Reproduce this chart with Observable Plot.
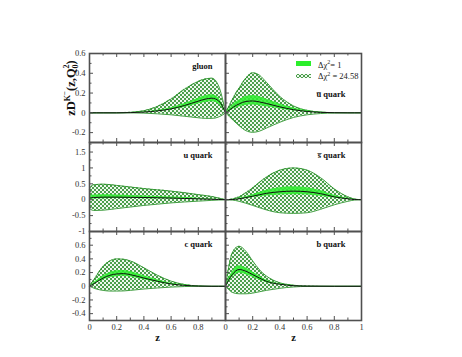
<!DOCTYPE html>
<html><head><meta charset="utf-8">
<script src="https://cdn.jsdelivr.net/npm/d3@7"></script>
<script src="https://cdn.jsdelivr.net/npm/@observablehq/plot@0.6"></script>
<style>
body{margin:0;background:#fff}
#chart{position:relative;width:462px;height:357px;font-family:"Liberation Serif",serif}
#chart svg{position:absolute;overflow:visible}
</style>
</head><body>
<svg width="0" height="0" style="position:absolute">
<defs>
<pattern id="hatch" patternUnits="userSpaceOnUse" width="4" height="4">
<rect width="4" height="4" fill="#eef8ee"/>
<path d="M0,0L4,4M4,0L0,4M-1,3L1,5M3,-1L5,1M-1,1L1,-1M3,5L5,3" stroke="#2e8e2e" stroke-width="0.85"/>
</pattern>
</defs>
</svg>
<div id="chart"></div>
<script>
// ---------------- data ----------------
const gluonZ    = [0,0.1,0.2,0.3,0.4,0.5,0.6,0.7,0.8,0.85,0.9,0.95,0.98,1];
const gluonC    = [0,0,0,0.002,0.008,0.02,0.04,0.075,0.118,0.138,0.148,0.12,0.06,0];
const gluonInLo = [0,0,0,0.001,0.005,0.014,0.03,0.055,0.09,0.105,0.112,0.09,0.045,0];
const gluonInHi = [0,0,0,0.003,0.011,0.027,0.052,0.095,0.148,0.172,0.182,0.15,0.075,0];
const gluonOutLo= [0,0,0,0,-0.003,-0.01,-0.02,-0.035,-0.05,-0.056,-0.056,-0.042,-0.02,0];
const gluonOutHi= [0,0,0,0.005,0.022,0.065,0.14,0.24,0.318,0.342,0.35,0.27,0.13,0];

const ubarZ    = [0,0.03,0.06,0.1,0.15,0.2,0.25,0.3,0.4,0.5,0.6,0.7,0.8,0.9,1];
const ubarC    = [0,0.03,0.06,0.09,0.115,0.12,0.11,0.095,0.06,0.032,0.014,0.005,0.001,0,0];
const ubarInLo = [0,0.02,0.04,0.06,0.075,0.078,0.072,0.062,0.04,0.022,0.009,0.003,0,0,0];
const ubarInHi = [0,0.045,0.09,0.13,0.165,0.175,0.162,0.14,0.09,0.048,0.02,0.007,0.002,0,0];
const ubarOutLo= [0,-0.04,-0.08,-0.13,-0.18,-0.197,-0.185,-0.155,-0.095,-0.047,-0.02,-0.007,-0.002,0,0];
const ubarOutHi= [0,0.08,0.16,0.25,0.35,0.405,0.38,0.31,0.165,0.07,0.025,0.007,0.002,0,0];

const uZ    = [0,0.03,0.1,0.2,0.3,0.4,0.5,0.6,0.7,0.8,0.9,1];
const uC    = [0.05,0.07,0.08,0.08,0.075,0.07,0.062,0.052,0.04,0.028,0.015,0];
const uInLo = [0,0.02,0.03,0.035,0.035,0.033,0.03,0.025,0.02,0.014,0.007,0];
const uInHi = [0.12,0.15,0.155,0.145,0.13,0.115,0.1,0.085,0.066,0.046,0.024,0];
const uOutLo= [-0.28,-0.34,-0.33,-0.28,-0.23,-0.18,-0.14,-0.1,-0.07,-0.045,-0.02,0];
const uOutHi= [0.34,0.47,0.49,0.45,0.4,0.35,0.31,0.27,0.22,0.16,0.1,0];

const sbarZ    = [0,0.05,0.1,0.2,0.3,0.4,0.5,0.6,0.7,0.8,0.9,0.95,1];
const sbarC    = [0,0.005,0.03,0.11,0.2,0.25,0.27,0.25,0.19,0.09,0.03,0.005,0];
const sbarInLo = [0,0.003,0.02,0.07,0.12,0.15,0.16,0.15,0.11,0.055,0.018,0.003,0];
const sbarInHi = [0,0.008,0.045,0.16,0.3,0.38,0.41,0.38,0.29,0.14,0.045,0.008,0];
const sbarOutLo= [0,-0.01,-0.05,-0.18,-0.32,-0.41,-0.43,-0.41,-0.3,-0.16,-0.05,-0.01,0];
const sbarOutHi= [0,0.02,0.09,0.375,0.71,0.93,1.0,0.93,0.69,0.34,0.09,0.02,0];

const cZ    = [0,0.05,0.1,0.15,0.2,0.25,0.3,0.4,0.5,0.6,0.7,0.8,0.9,1];
const cC    = [0,0.06,0.12,0.16,0.18,0.185,0.17,0.12,0.073,0.034,0.013,0.003,0,0];
const cInLo = [0,0.045,0.09,0.125,0.14,0.145,0.135,0.095,0.056,0.026,0.01,0.002,0,0];
const cInHi = [0,0.08,0.15,0.2,0.225,0.23,0.215,0.155,0.095,0.045,0.017,0.004,0,0];
const cOutLo= [0,-0.04,-0.06,-0.07,-0.07,-0.068,-0.06,-0.04,-0.025,-0.012,-0.004,0,0,0];
const cOutHi= [0,0.15,0.29,0.37,0.4,0.395,0.37,0.27,0.16,0.075,0.025,0.005,0,0];

const bZ    = [0,0.02,0.05,0.1,0.15,0.2,0.25,0.3,0.35,0.4,0.5,0.6,0.8,1];
const bC    = [0,0.08,0.17,0.245,0.22,0.17,0.12,0.073,0.045,0.03,0.008,0.002,0,0];
const bInLo = [0,0.06,0.13,0.19,0.17,0.13,0.09,0.056,0.035,0.023,0.006,0.001,0,0];
const bInHi = [0,0.1,0.21,0.3,0.27,0.21,0.15,0.09,0.056,0.037,0.01,0.002,0,0];
const bOutLo= [0,-0.04,-0.09,-0.11,-0.11,-0.1,-0.08,-0.06,-0.045,-0.03,-0.01,-0.002,0,0];
const bOutHi= [0,0.24,0.49,0.585,0.51,0.37,0.24,0.15,0.09,0.05,0.015,0.003,0,0];

const xMajor = [0,0.2,0.4,0.6,0.8,1];
const xMinor = [0.1,0.3,0.5,0.7,0.9];
const xLabelsLeft  = [0,0.2,0.4,0.6,0.8];
const xLabelsRight = [0,0.2,0.4,0.6,0.8,1];

const topDomain = [-0.3,0.6], topMajor=[-0.2,0,0.2,0.4], topMinor=[-0.1,0.1,0.3,0.5], topLabels=[-0.2,0,0.2,0.4,0.6];
const midDomain = [-1,1.8],  midMajor=[-0.5,0,0.5,1,1.5], midMinor=[-0.75,-0.25,0.25,0.75,1.25,1.75], midLabels=[-1,-0.5,0,0.5,1,1.5];
const botDomain = [-0.5,0.8], botMajor=[-0.4,-0.2,0,0.2,0.4,0.6], botMinor=[-0.3,-0.1,0.1,0.3,0.5,0.7], botLabels=[-0.4,-0.2,0,0.2,0.4,0.6];

// ---------------- layout ----------------
const W = 136, H = 89, ML = 40, MR = 6, MT = 6, MB = 36;
const colX = [89, 225], rowY = [53, 142, 231];
const curve = "monotone-x";
const frameColor = "#505050";
const chart = document.getElementById("chart");

function makePanel(p) {
  const rows = p.z.map((z, i) => ({z, c: p.c[i], inLo: p.inLo[i], inHi: p.inHi[i], outLo: p.outLo[i], outHi: p.outHi[i]}));
  const marks = [
    Plot.areaY(rows, {x: "z", y1: "outLo", y2: "outHi", fill: "url(#hatch)", curve}),
    Plot.line(rows, {x: "z", y: "outLo", stroke: "#2a922a", strokeWidth: 0.9, curve}),
    Plot.line(rows, {x: "z", y: "outHi", stroke: "#2a922a", strokeWidth: 0.9, curve}),
    Plot.areaY(rows, {x: "z", y1: "inLo", y2: "inHi", fill: "#2bee2b", fillOpacity: 0.85, curve}),
    Plot.line(rows, {x: "z", y: "c", stroke: "#111", strokeWidth: 1, curve}),
    Plot.ruleX(xMajor, {insetTop: H - 4, stroke: frameColor}),
    Plot.ruleX(xMajor, {insetBottom: H - 4, stroke: frameColor}),
    Plot.ruleX(xMinor, {insetTop: H - 2.5, stroke: frameColor}),
    Plot.ruleX(xMinor, {insetBottom: H - 2.5, stroke: frameColor}),
    Plot.ruleY(p.yMajor, {insetRight: W - 4, stroke: frameColor}),
    Plot.ruleY(p.yMinor, {insetRight: W - 2.5, stroke: frameColor}),
    Plot.frame({stroke: frameColor, strokeWidth: 1.6}),
    Plot.text([p.label], {frameAnchor: "top-right", textAnchor: "end", lineAnchor: "middle", dx: p.col === 0 ? -13 : -16, dy: p.labelDy ?? 13, fontWeight: "bold", fontSize: 8.5, fill: "#111"})
  ];
  if (p.col === 0) marks.push(Plot.axisY(p.yLabels, {anchor: "left", tickSize: 0, tickPadding: 4, tickFormat: d => String(d), label: null, color: "#333", fontSize: 8.5}));
  if (p.xLabels) {
    marks.push(Plot.axisX(p.xLabels, {anchor: "bottom", tickSize: 0, tickPadding: 3, tickFormat: d => String(d), label: null, color: "#333", fontSize: 8.5}));
    marks.push(Plot.text(["z"], {frameAnchor: "bottom", lineAnchor: "middle", dy: 17, fontWeight: "bold", fontSize: 10.5, fill: "#111"}));
  }
  const svg = Plot.plot({
    width: W + ML + MR, height: H + MT + MB,
    marginLeft: ML, marginRight: MR, marginTop: MT, marginBottom: MB,
    x: {domain: [0, 1], axis: null, label: null},
    y: {domain: p.yDomain, axis: null, label: null},
    style: {background: "transparent", fontFamily: "Liberation Serif, serif", fontSize: "8.5px", overflow: "visible"},
    marks
  });
  svg.style.left = (colX[p.col] - ML) + "px";
  svg.style.top = (rowY[p.row] - MT) + "px";
  chart.appendChild(svg);
}

makePanel({row:0,col:0,z:gluonZ,c:gluonC,inLo:gluonInLo,inHi:gluonInHi,outLo:gluonOutLo,outHi:gluonOutHi,yDomain:topDomain,yMajor:topMajor,yMinor:topMinor,yLabels:topLabels,label:"gluon"});
makePanel({row:0,col:1,z:ubarZ,c:ubarC,inLo:ubarInLo,inHi:ubarInHi,outLo:ubarOutLo,outHi:ubarOutHi,yDomain:topDomain,yMajor:topMajor,yMinor:topMinor,label:"u\u0305 quark",labelDy:41});
makePanel({row:1,col:0,z:uZ,c:uC,inLo:uInLo,inHi:uInHi,outLo:uOutLo,outHi:uOutHi,yDomain:midDomain,yMajor:midMajor,yMinor:midMinor,yLabels:midLabels,label:"u quark"});
makePanel({row:1,col:1,z:sbarZ,c:sbarC,inLo:sbarInLo,inHi:sbarInHi,outLo:sbarOutLo,outHi:sbarOutHi,yDomain:midDomain,yMajor:midMajor,yMinor:midMinor,label:"s\u0305 quark"});
makePanel({row:2,col:0,z:cZ,c:cC,inLo:cInLo,inHi:cInHi,outLo:cOutLo,outHi:cOutHi,yDomain:botDomain,yMajor:botMajor,yMinor:botMinor,yLabels:botLabels,label:"c quark",xLabels:xLabelsLeft});
makePanel({row:2,col:1,z:bZ,c:bC,inLo:bInLo,inHi:bInHi,outLo:bOutLo,outHi:bOutHi,yDomain:botDomain,yMajor:botMajor,yMinor:botMinor,label:"b quark",xLabels:xLabelsRight});

// y-axis title and legend (annotation overlay)
const overlay = document.createElementNS("http://www.w3.org/2000/svg", "svg");
overlay.setAttribute("width", 462); overlay.setAttribute("height", 357);
overlay.style.left = "0px"; overlay.style.top = "0px";
overlay.innerHTML = `
<text transform="translate(75,88) rotate(-90)" text-anchor="middle" font-family="Liberation Serif, serif" font-weight="bold" font-size="12.5" fill="#111">zD<tspan dy="-5" font-size="8">K</tspan><tspan dy="-3" font-size="7">−</tspan><tspan dy="8">(z,Q</tspan><tspan dy="3" font-size="8">0</tspan><tspan dx="-4" dy="-9" font-size="8">2</tspan><tspan dy="6">)</tspan></text>
<rect x="296" y="61" width="15" height="5" fill="#2bee2b"/>
<rect x="296" y="74" width="15" height="4" fill="url(#hatch)"/>
<text x="318" y="67.5" font-family="Liberation Serif, serif" font-size="8.5" fill="#222">Δχ<tspan dy="-3.5" font-size="6">2</tspan><tspan dy="3.5">= 1</tspan></text>
<text x="318" y="79" font-family="Liberation Serif, serif" font-size="8.5" fill="#222">Δχ<tspan dy="-3.5" font-size="6">2</tspan><tspan dy="3.5"> = 24.58</tspan></text>`;
chart.appendChild(overlay);
</script>
</body></html>
